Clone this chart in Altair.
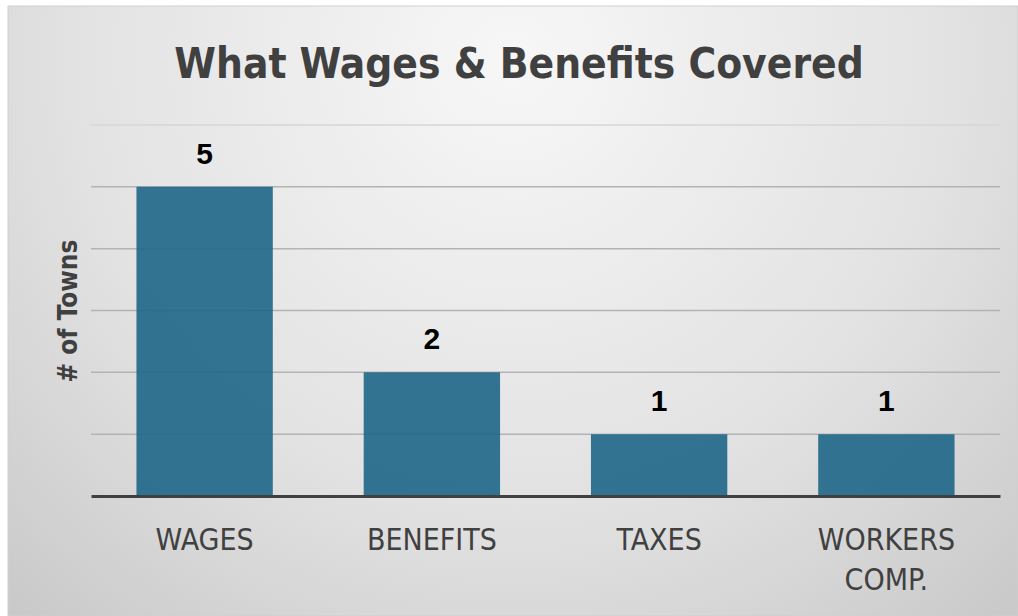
import altair as alt
import pandas as pd

categories = ["WAGES", "BENEFITS", "TAXES", "WORKERS COMP."]
towns = [5, 2, 1, 1]
grid_values = [1, 2, 3, 4, 5, 6]
title_text = "What Wages & Benefits Covered"

df = pd.DataFrame({"category": categories, "towns": towns})
gdf = pd.DataFrame({"g": grid_values})

W, H = 909, 371
NARROW = "Liberation Sans Narrow, DejaVu Sans Condensed, sans-serif"

bg = alt.Chart(pd.DataFrame({"a": [0]})).mark_rect(
    fill=alt.RadialGradient(
        gradient="radial",
        stops=[alt.GradientStop(color="#f7f7f7", offset=0),
               alt.GradientStop(color="#e2e2e2", offset=0.55),
               alt.GradientStop(color="#c4c4c4", offset=1)],
        x1=0.5, y1=0.25, x2=0.5, y2=0.25, r1=0, r2=0.8),
    stroke="#cfcfcf", strokeWidth=1
).encode(x=alt.value(-83), x2=alt.value(W + 18), y=alt.value(-119), y2=alt.value(H + 120))

yscale = alt.Scale(domain=[0, 6], nice=False)

y_axis = alt.Axis(labels=False, ticks=False, domain=False, grid=False,
                  titleFont=NARROW,
                  titleFontSize=26, titleFontWeight="bold", titleColor="#404040",
                  titlePadding=10, zindex=1)

grid = alt.Chart(gdf).mark_rule(strokeWidth=1.5).encode(
    y=alt.Y("g:Q", scale=yscale, axis=y_axis, title="# of Towns"),
    x=alt.value(0), x2=alt.value(W),
    color=alt.condition("datum.g == 6", alt.value("#d6d6d6"), alt.value("#b3b3b3")))

x_enc = alt.X("category:N", sort=categories, title=None,
              scale=alt.Scale(paddingInner=0.4, paddingOuter=0.2),
              axis=alt.Axis(labelAngle=0, labelFont=NARROW,
                            labelFontSize=30, labelColor="#404040", labelPadding=29,
                            labelLineHeight=40, labelExpr="split(datum.label, ' ')",
                            domainColor="#404040", domainWidth=3, ticks=False, zindex=1))
y_enc = alt.Y("towns:Q", scale=yscale, title="# of Towns", axis=y_axis)

bars = alt.Chart(df).mark_bar(color="#1d6686", opacity=0.9).encode(x=x_enc, y=y_enc)
labels = alt.Chart(df).mark_text(dy=-23, baseline="alphabetic", fontSize=30, fontWeight="bold",
                                 color="#000000", font="Liberation Sans, Arial, sans-serif").encode(
    x=alt.X("category:N", sort=categories), y=alt.Y("towns:Q", scale=yscale), text="towns:Q")

title = alt.Chart(pd.DataFrame({"t": [title_text]})).mark_text(
    font=NARROW, fontSize=42, fontWeight="bold", color="#404040",
    align="center", baseline="alphabetic").encode(
    x=alt.value(428), y=alt.value(-47), text="t:N")

chart = alt.layer(bg, grid, bars, labels, title).properties(
    width=W, height=H,
    padding={"left": 91, "top": 125, "right": 18, "bottom": 120},
    autosize=alt.AutoSizeParams(type="none"),
    background="white",
).configure_view(stroke=None)

chart.save("out.html", embed_options={"renderer": "svg", "actions": False})
